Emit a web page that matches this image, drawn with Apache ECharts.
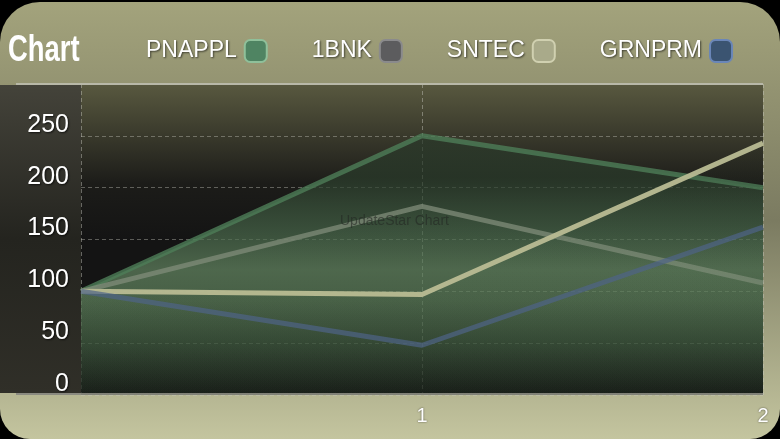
<!DOCTYPE html>
<html><head><meta charset="utf-8">
<script src="https://cdn.jsdelivr.net/npm/echarts@6/dist/echarts.min.js"></script>
<style>html,body{margin:0;padding:0;background:#000;}#c{width:780px;height:439px;}</style>
</head><body><div id="c"></div>
<script>
const categories = ['0', '1', '2'];
const seriesNames = ['PNAPPL', '1BNK', 'SNTEC', 'GRNPRM'];
const PNAPPL = [100, 250, 200];
const BNK1 = [100, 182, 108];
const SNTEC = [100, 97, 243];
const GRNPRM = [100, 48, 162];
const yTicks = [0, 50, 100, 150, 200, 250];

const lineColors = ['rgba(78,125,88,0.8)', 'rgba(128,140,122,0.75)', 'rgba(185,188,148,0.95)', 'rgba(78,100,135,0.7)'];
const iconColors = ['#4f8462', '#5c5c5e', '#a9aa8a', '#3b5471'];
const iconBorders = ['#8fc09a', '#8a8a8c', '#d0d0b0', '#6a86b8'];
const values = [PNAPPL, BNK1, SNTEC, GRNPRM];

const chart = echarts.init(document.getElementById('c'));
const G = echarts.graphic;
function areaFill(a) {
  return new G.LinearGradient(0, 85, 0, 393, [
    { offset: 0, color: 'rgba(40,52,40,' + a + ')' },
    { offset: 0.3, color: 'rgba(42,60,43,' + a + ')' },
    { offset: 0.47, color: 'rgba(72,103,74,' + a + ')' },
    { offset: 0.6, color: 'rgba(100,135,98,' + a + ')' },
    { offset: 0.7, color: 'rgba(90,123,88,' + a + ')' },
    { offset: 0.85, color: 'rgba(60,85,60,' + a + ')' },
    { offset: 1, color: 'rgba(28,36,28,' + a + ')' }], true);
}
chart.setOption({
  backgroundColor: '#000',
  animation: false,
  graphic: [
    { type: 'rect', z: -10, shape: { x: 0, y: 2, width: 780, height: 437, r: [40, 40, 30, 30] },
      style: { fill: new G.LinearGradient(0, 0, 0, 1, [
        { offset: 0, color: '#a3a37c' }, { offset: 0.5, color: '#7b7b61' }, { offset: 1, color: '#c4c59f' }]) } },
    { type: 'rect', z: -9, shape: { x: 0, y: 85, width: 81, height: 308 },
      style: { fill: new G.LinearGradient(0, 0, 0, 1, [
        { offset: 0, color: '#44433a' }, { offset: 0.5, color: '#24241f' }, { offset: 1, color: '#302f28' }]) } },
    { type: 'rect', z: -9, shape: { x: 81, y: 85, width: 682, height: 308 },
      style: { fill: new G.LinearGradient(0, 0, 0, 1, [
        { offset: 0, color: '#58583f' }, { offset: 0.32, color: '#1c1c19' }, { offset: 0.5, color: '#141414' }, { offset: 1, color: '#141414' }]) } },
    { type: 'line', z: 5, shape: { x1: 16, y1: 84, x2: 763, y2: 84 }, style: { stroke: '#b8b8a8', lineWidth: 2 } },
    { type: 'line', z: 5, shape: { x1: 16, y1: 394, x2: 763, y2: 394 }, style: { stroke: '#8a8a80', lineWidth: 2 } },
    { type: 'text', z: 6, x: 8, y: 32, scaleX: 0.74, style: { text: 'Chart', fill: '#ffffff', font: 'bold 37px "Liberation Sans"',
      shadowColor: 'rgba(0,0,0,0.9)', shadowBlur: 2, shadowOffsetX: 2, shadowOffsetY: 3 } },
    { type: 'text', z: 4, left: 340, top: 214, style: { text: 'UpdateStar Chart', fill: 'rgba(35,40,35,0.6)', font: '14px "Liberation Sans"' } }
  ],
  legend: {
    left: 141, top: 34, itemWidth: 22, itemHeight: 22, itemGap: 44, align: 'right', icon: 'roundRect',
    textStyle: { color: '#ffffff', fontSize: 23, fontFamily: 'Liberation Sans', padding: [0, 3, 0, 0],
      textShadowColor: 'rgba(0,0,0,0.6)', textShadowBlur: 2, textShadowOffsetX: 1, textShadowOffsetY: 1 },
    data: seriesNames.map((n, i) => ({ name: n, itemStyle: { color: iconColors[i], borderColor: iconBorders[i], borderWidth: 2 } }))
  },
  grid: { left: 81, right: 17, top: 84, bottom: 44 },
  xAxis: {
    type: 'category', data: categories, boundaryGap: false,
    axisLine: { show: false }, axisTick: { show: false },
    axisLabel: { showMinLabel: false, color: '#ffffff', fontSize: 20, fontFamily: 'Liberation Sans', margin: 11,
      textShadowColor: 'rgba(0,0,0,0.6)', textShadowBlur: 2 },
    splitLine: { show: true, lineStyle: { color: 'rgba(200,200,190,0.45)', type: [4, 3], width: 1 } }
  },
  yAxis: {
    type: 'value', min: 0, max: 300, interval: 50,
    axisLine: { show: false }, axisTick: { show: false },
    axisLabel: { color: '#ffffff', fontSize: 25, fontFamily: 'Liberation Sans', margin: 12, verticalAlign: 'bottom', lineHeight: 22,
      showMaxLabel: false,
      formatter: v => yTicks.indexOf(v) >= 0 ? String(v) : '',
      textShadowColor: 'rgba(0,0,0,0.7)', textShadowBlur: 2, textShadowOffsetX: 1, textShadowOffsetY: 1 },
    splitLine: { show: true, lineStyle: { color: 'rgba(200,200,190,0.4)', type: [4, 3], width: 1 } }
  },
  series: values.map((d, i) => ({
    name: seriesNames[i], type: 'line', data: d, symbol: 'none', z: 2 + i,
    itemStyle: { color: iconColors[i] },
    lineStyle: { color: lineColors[i], width: 5 },
    areaStyle: { color: areaFill(i === 0 ? 1 : 0.12) }
  }))
});
</script></body></html>
